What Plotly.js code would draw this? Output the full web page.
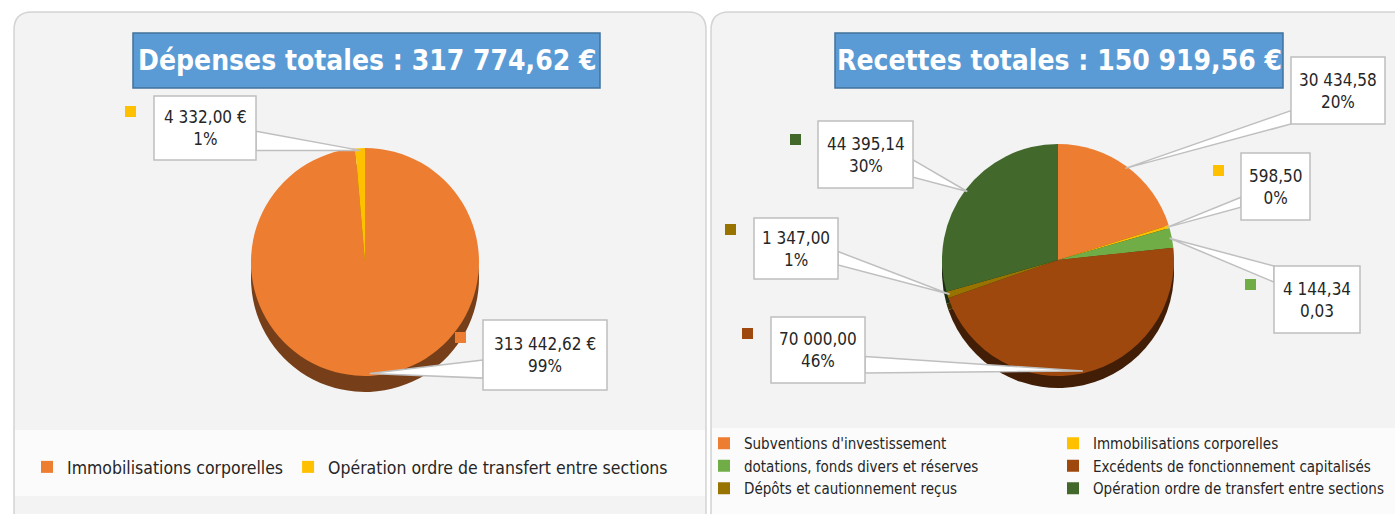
<!DOCTYPE html>
<html><head><meta charset="utf-8">
<script src="https://cdn.plot.ly/plotly-3.0.1.min.js"></script>
<style>html,body{margin:0;padding:0;background:#fff;} #chart{width:1395px;height:514px;}</style>
</head><body><div id="chart"></div>
<script>
// ---------------- DATA ----------------
const depTitle = "Dépenses totales : 317 774,62 €";
const depLabels = ["Immobilisations corporelles", "Opération ordre de transfert entre sections"];
const depValues = [313442.62, 4332.00];
const depValueText = ["313 442,62 €", "4 332,00 €"];
const depPctText = ["99%", "1%"];
const depColors = ["#ED7D31", "#FFC000"];

const recTitle = "Recettes totales : 150 919,56 €";
const recLabels = ["Subventions d'investissement", "Immobilisations corporelles",
  "dotations, fonds divers et réserves", "Excédents de fonctionnement capitalisés",
  "Dépôts et cautionnement reçus", "Opération ordre de transfert entre sections"];
const recValues = [30434.58, 598.50, 4144.34, 70000.00, 1347.00, 44395.14];
const recValueText = ["30 434,58", "598,50", "4 144,34", "70 000,00", "1 347,00", "44 395,14"];
const recPctText = ["20%", "0%", "0,03", "46%", "1%", "30%"];
const recColors = ["#ED7D31", "#FFC000", "#70AD47", "#9E480E", "#997300", "#43682B"];

// ---------------- LAYOUT HELPERS ----------------
const W = 1395, H = 514, ML = 240, MR = 210;
const GW = W - ML - MR;
const X = p => (p - ML) / GW;
const Y = p => 1 - p / H;
const FONT = "DejaVu Sans Condensed, Liberation Sans Narrow, Liberation Sans, sans-serif";

const depGeo = {cx: 365, cy: 262, r: 114, depth: 16};
const recGeo = {cx: 1058, cy: 260, r: 116, depth: 12};

// label boxes: [x0, y0, x1, y1, side, baseFrom, baseTo]
const depBoxes = [[483, 320, 607, 390, 'left', 0.57, 0.83], [154, 96, 256, 160, 'right', 0.55, 0.85]];
const depKeys = [[455, 332], [125, 106]];
const recBoxes = [
  [1291, 57, 1385, 124, 'left', 0.80, 1.0],
  [1241, 153, 1310, 220, 'left', 0.66, 0.81],
  [1274, 266, 1360, 333, 'left', 0.0, 0.24],
  [771, 317, 865, 383, 'right', 0.60, 0.85],
  [754, 218, 838, 279, 'right', 0.55, 0.77],
  [818, 121, 913, 188, 'right', 0.58, 0.84]];
const recKeys = [null, [1213, 165], [1245, 279], [742, 328], [725, 224], [790, 134]];

function darken(hex, f) {
  const n = parseInt(hex.slice(1), 16);
  const r = Math.round(((n >> 16) & 255) * f), g = Math.round(((n >> 8) & 255) * f), b = Math.round((n & 255) * f);
  return `rgb(${r},${g},${b})`;
}
function domainOf(g, dy) {
  return {x: [X(g.cx - g.r), X(g.cx + g.r)], y: [Y(g.cy + dy + g.r), Y(g.cy + dy - g.r)]};
}
function edgePoint(values, i, g) {
  const tot = values.reduce((a, b) => a + b, 0);
  let before = 0;
  for (let k = 0; k < i; k++) before += values[k];
  const a = (before + values[i] / 2) / tot * 2 * Math.PI;
  const rr = g.r * 0.98;
  return [g.cx + rr * Math.sin(a), g.cy - rr * Math.cos(a)];
}

// ---------------- TRACES ----------------
const pieBase = {type: 'pie', sort: false, direction: 'clockwise', rotation: 0,
  textinfo: 'none', hoverinfo: 'skip'};
const traces = [
  Object.assign({}, pieBase, {labels: depLabels, values: depValues, showlegend: false, legendgroup: 'depShadow',
    marker: {colors: depColors.map(c => darken(c, 0.5)), line: {width: 0}}, domain: domainOf(depGeo, depGeo.depth)}),
  Object.assign({}, pieBase, {labels: depLabels, values: depValues, legend: 'legend', legendgroup: 'dep',
    marker: {colors: depColors, line: {width: 0}}, domain: domainOf(depGeo, 0)}),
  Object.assign({}, pieBase, {labels: recLabels, values: recValues, showlegend: false, legendgroup: 'recShadow',
    marker: {colors: recColors.map(c => darken(c, 0.42)), line: {width: 0}}, domain: domainOf(recGeo, recGeo.depth)}),
  Object.assign({}, pieBase, {labels: recLabels, values: recValues, legend: 'legend2', legendgroup: 'rec',
    marker: {colors: recColors, line: {width: 0}}, domain: domainOf(recGeo, 0)})
];

// ---------------- SHAPES & ANNOTATIONS ----------------
const shapes = [];
const annotations = [];

function panelPath(x0, y0, x1, y1, rad) {
  return `M${X(x0)},${Y(y0 + rad)} Q${X(x0)},${Y(y0)} ${X(x0 + rad)},${Y(y0)} L${X(x1 - rad)},${Y(y0)} ` +
    `Q${X(x1)},${Y(y0)} ${X(x1)},${Y(y0 + rad)} L${X(x1)},${Y(y1 - rad)} Q${X(x1)},${Y(y1)} ${X(x1 - rad)},${Y(y1)} ` +
    `L${X(x0 + rad)},${Y(y1)} Q${X(x0)},${Y(y1)} ${X(x0)},${Y(y1 - rad)} Z`;
}
// panels
shapes.push({type: 'path', xref: 'paper', yref: 'paper', layer: 'below', path: panelPath(14, 12, 706, 530, 18),
  fillcolor: '#f3f3f3', line: {color: '#d4d4d4', width: 1.5}});
shapes.push({type: 'path', xref: 'paper', yref: 'paper', layer: 'below', path: panelPath(711, 12, 1420, 530, 18),
  fillcolor: '#f3f3f3', line: {color: '#d4d4d4', width: 1.5}});
// lighter legend areas
shapes.push({type: 'rect', xref: 'paper', yref: 'paper', layer: 'below', x0: X(15), x1: X(705), y0: Y(496), y1: Y(430),
  fillcolor: '#fbfbfb', line: {width: 0}});
shapes.push({type: 'rect', xref: 'paper', yref: 'paper', layer: 'below', x0: X(712), x1: X(1395), y0: Y(514), y1: Y(428),
  fillcolor: '#fbfbfb', line: {width: 0}});

// titles
function addTitle(text, x0, y0, x1, y1) {
  shapes.push({type: 'rect', xref: 'paper', yref: 'paper', layer: 'above', x0: X(x0), x1: X(x1), y0: Y(y1), y1: Y(y0),
    fillcolor: '#5B9BD5', line: {color: '#41719C', width: 1.5}});
  annotations.push({xref: 'paper', yref: 'paper', x: X((x0 + x1) / 2), y: Y((y0 + y1) / 2), xanchor: 'center', yanchor: 'middle',
    text: text, showarrow: false, font: {family: FONT, size: 28, color: '#ffffff', weight: 700}});
}
addTitle(depTitle, 133, 33, 600, 88);
addTitle(recTitle, 835, 33, 1283, 88);

// callouts
function addCallouts(values, colors, vtext, ptext, boxes, keys, geo) {
  boxes.forEach((b, i) => {
    const [x0, y0, x1, y1, side, f0, f1] = b;
    const tip = edgePoint(values, i, geo);
    const bx = side === 'left' ? x0 : x1;
    const ya = y0 + (y1 - y0) * f0, yb = y0 + (y1 - y0) * f1;
    shapes.push({type: 'path', xref: 'paper', yref: 'paper', layer: 'above',
      path: `M${X(bx)},${Y(ya)} L${X(tip[0])},${Y(tip[1])} L${X(bx)},${Y(yb)} Z`,
      fillcolor: '#ffffff', line: {color: '#bfbfbf', width: 1.5}});
    shapes.push({type: 'rect', xref: 'paper', yref: 'paper', layer: 'above', x0: X(x0), x1: X(x1), y0: Y(y1), y1: Y(y0),
      fillcolor: '#ffffff', line: {color: '#bfbfbf', width: 1.5}});
    annotations.push({xref: 'paper', yref: 'paper', x: X((x0 + x1) / 2), y: Y((y0 + y1) / 2), xanchor: 'center', yanchor: 'middle',
      text: vtext[i] + '<br>' + ptext[i], showarrow: false, align: 'center',
      font: {family: FONT, size: 17, color: '#262626'}});
    if (keys[i]) {
      const [kx, ky] = keys[i];
      shapes.push({type: 'rect', xref: 'paper', yref: 'paper', layer: 'above', x0: X(kx), x1: X(kx + 11), y0: Y(ky + 11), y1: Y(ky),
        fillcolor: colors[i], line: {width: 0}});
    }
  });
}
addCallouts(depValues, depColors, depValueText, depPctText, depBoxes, depKeys, depGeo);
addCallouts(recValues, recColors, recValueText, recPctText, recBoxes, recKeys, recGeo);

const layout = {
  width: W, height: H,
  margin: {l: ML, r: MR, t: 0, b: 0, autoexpand: false},
  paper_bgcolor: '#ffffff', plot_bgcolor: 'rgba(0,0,0,0)',
  showlegend: true,
  legend: {x: X(27), y: Y(467), xanchor: 'left', yanchor: 'middle', orientation: 'h', traceorder: 'normal',
    bgcolor: 'rgba(0,0,0,0)', borderwidth: 0, font: {family: FONT, size: 17.5, color: '#262626'}},
  legend2: {x: X(704), y: Y(427), xanchor: 'left', yanchor: 'top', orientation: 'h', entrywidth: 304, traceorder: 'normal',
    bgcolor: 'rgba(0,0,0,0)', borderwidth: 0, font: {family: FONT, size: 15, color: '#262626'}},
  shapes: shapes,
  annotations: annotations
};

Plotly.newPlot('chart', traces, layout, {displayModeBar: false, staticPlot: true});
</script>
</body></html>
